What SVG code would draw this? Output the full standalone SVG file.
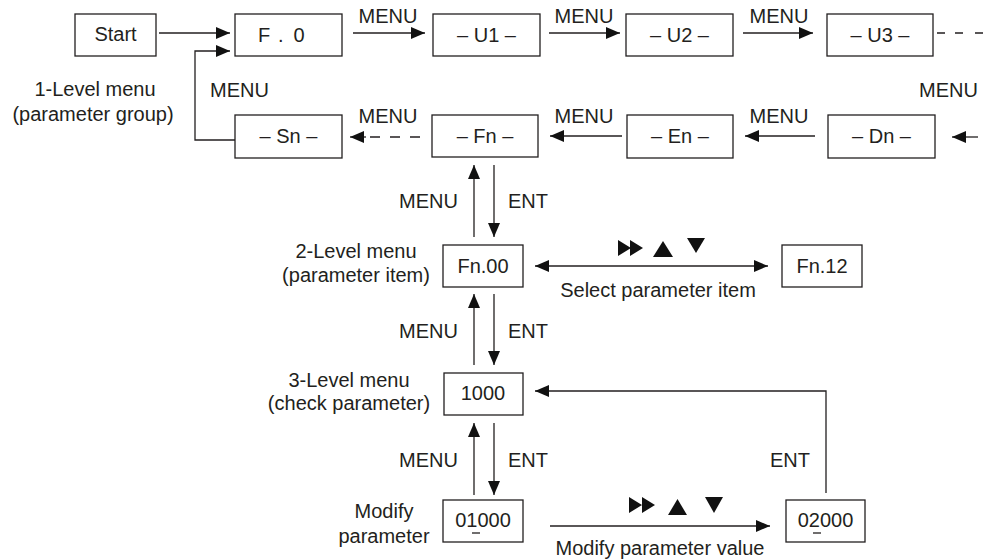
<svg xmlns="http://www.w3.org/2000/svg" width="988" height="560" viewBox="0 0 988 560">
  <style>
    .box { fill: #ffffff; stroke: #231f20; stroke-width: 1.3; }
    .txt { font-family: "Liberation Sans", Arial, sans-serif; font-size: 20px; fill: #231f20; }
    .mid { text-anchor: middle; }
    .end { text-anchor: end; }
    .ln { fill: none; stroke: #231f20; stroke-width: 1.3; }
    .icon { fill: #111111; }
  </style>
  <defs>
    <marker id="ah" viewBox="0 0 14 12" refX="14" refY="6" markerWidth="14" markerHeight="12" markerUnits="userSpaceOnUse" orient="auto-start-reverse">
      <path d="M0,0 L14,6 L0,12 z" fill="#111111"/>
    </marker>
  </defs>

  <rect width="988" height="560" fill="#ffffff"/>

  <!-- connectors -->
  <g id="connectors">
    <path class="ln" d="M159,33 H230" marker-end="url(#ah)"/>
    <path class="ln" d="M235,140 H195 V51 H230" marker-end="url(#ah)"/>
    <path class="ln" d="M353,33 H425" marker-end="url(#ah)"/>
    <path class="ln" d="M549,33 H620" marker-end="url(#ah)"/>
    <path class="ln" d="M743,33 H813" marker-end="url(#ah)"/>
    <path class="ln" d="M937,33 H945 M955,33 H963 M975,33 H983"/>
    <path class="ln" d="M978,137 H952" marker-end="url(#ah)"/>
    <path class="ln" d="M815,136 H745" marker-end="url(#ah)"/>
    <path class="ln" d="M622,136 H550" marker-end="url(#ah)"/>
    <path class="ln" d="M366,137 H350" marker-end="url(#ah)"/>
    <path class="ln" d="M370,137 H380 M390,137 H400 M410,137 H420"/>
    <path class="ln" d="M474,237 V165" marker-end="url(#ah)"/>
    <path class="ln" d="M494,165 V237" marker-end="url(#ah)"/>
    <path class="ln" d="M474,365 V294" marker-end="url(#ah)"/>
    <path class="ln" d="M494,294 V365" marker-end="url(#ah)"/>
    <path class="ln" d="M474,495 V423" marker-end="url(#ah)"/>
    <path class="ln" d="M494,423 V495" marker-end="url(#ah)"/>
    <path class="ln" d="M535,266 H768" marker-start="url(#ah)" marker-end="url(#ah)"/>
    <path class="ln" d="M550,526 H770" marker-end="url(#ah)"/>
    <path class="ln" d="M826,493 V391 H535" marker-end="url(#ah)"/>
  </g>

  <!-- top row -->
  <g id="start"><rect class="box" x="75" y="14" width="81" height="42"/><text class="txt mid" x="115.5" y="41">Start</text></g>
  <g id="f0"><rect class="box" x="235" y="14" width="107" height="42"/><text class="txt" x="258" y="42" letter-spacing="10">F.0</text></g>
  <g id="u1"><rect class="box" x="433" y="14" width="107" height="42"/><text class="txt mid" x="486.5" y="42">– U1 –</text></g>
  <g id="u2"><rect class="box" x="626" y="14" width="107" height="42"/><text class="txt mid" x="679.5" y="42">– U2 –</text></g>
  <g id="u3"><rect class="box" x="827" y="14" width="106" height="42"/><text class="txt mid" x="880" y="42">– U3 –</text></g>

  <!-- bottom row -->
  <g id="sn"><rect class="box" x="235" y="115" width="107" height="43"/><text class="txt mid" x="288.5" y="143">– Sn –</text></g>
  <g id="fn"><rect class="box" x="432" y="115" width="106" height="42"/><text class="txt mid" x="485" y="143">– Fn –</text></g>
  <g id="en"><rect class="box" x="627" y="115" width="106" height="43"/><text class="txt mid" x="680" y="143">–  En –</text></g>
  <g id="dn"><rect class="box" x="828" y="115" width="107" height="43"/><text class="txt mid" x="881.5" y="143">– Dn –</text></g>

  <!-- lower levels -->
  <g id="fn00"><rect class="box" x="443" y="245" width="80" height="42"/><text class="txt mid" x="483" y="273">Fn.00</text></g>
  <g id="fn12"><rect class="box" x="782" y="245" width="80" height="42"/><text class="txt mid" x="822" y="273">Fn.12</text></g>
  <g id="v1000"><rect class="box" x="444" y="373" width="79" height="42"/><text class="txt mid" x="483" y="400">1000</text></g>
  <g id="v01000"><rect class="box" x="443" y="500" width="80" height="42"/><text class="txt mid" x="483" y="527">01000</text><path class="ln" d="M472,533 H480"/></g>
  <g id="v02000"><rect class="box" x="786" y="500" width="79" height="42"/><text class="txt mid" x="825.5" y="527">02000</text><path class="ln" d="M813,533 H821"/></g>

  <!-- key symbols -->
  <g id="keys-select">
    <path class="icon" d="M618,240 L631,248 L618,256 z M630,240 L643,248 L630,256 z"/>
    <path class="icon" d="M663,241 L673,257 L653,257 z"/>
    <path class="icon" d="M687,238 L705,238 L696,253 z"/>
  </g>
  <g id="keys-modify">
    <path class="icon" d="M629,497 L642,505 L629,513 z M642,497 L655,505 L642,513 z"/>
    <path class="icon" d="M677.5,499 L687,515 L668,515 z"/>
    <path class="icon" d="M705,497 L723,497 L714,513 z"/>
  </g>

  <!-- labels -->
  <g id="labels">
    <text class="txt mid" x="388" y="23">MENU</text>
    <text class="txt mid" x="584" y="23">MENU</text>
    <text class="txt mid" x="779" y="23">MENU</text>
    <text class="txt mid" x="388" y="123">MENU</text>
    <text class="txt mid" x="584" y="123">MENU</text>
    <text class="txt mid" x="779" y="123">MENU</text>
    <text class="txt" x="210" y="97">MENU</text>
    <text class="txt" x="919" y="97">MENU</text>
    <text class="txt mid" x="95" y="96">1-Level menu</text>
    <text class="txt mid" x="93" y="121">(parameter group)</text>
    <text class="txt end" x="458" y="208">MENU</text>
    <text class="txt" x="508" y="208">ENT</text>
    <text class="txt end" x="458" y="338">MENU</text>
    <text class="txt" x="508" y="338">ENT</text>
    <text class="txt end" x="458" y="467">MENU</text>
    <text class="txt" x="508" y="467">ENT</text>
    <text class="txt" x="770" y="467">ENT</text>
    <text class="txt mid" x="356" y="258">2-Level menu</text>
    <text class="txt mid" x="356" y="282">(parameter item)</text>
    <text class="txt mid" x="349" y="387">3-Level menu</text>
    <text class="txt mid" x="349" y="410">(check parameter)</text>
    <text class="txt mid" x="384" y="518">Modify</text>
    <text class="txt mid" x="384" y="543">parameter</text>
    <text class="txt mid" x="658" y="297">Select parameter item</text>
    <text class="txt mid" x="660" y="555">Modify parameter value</text>
  </g>
</svg>
